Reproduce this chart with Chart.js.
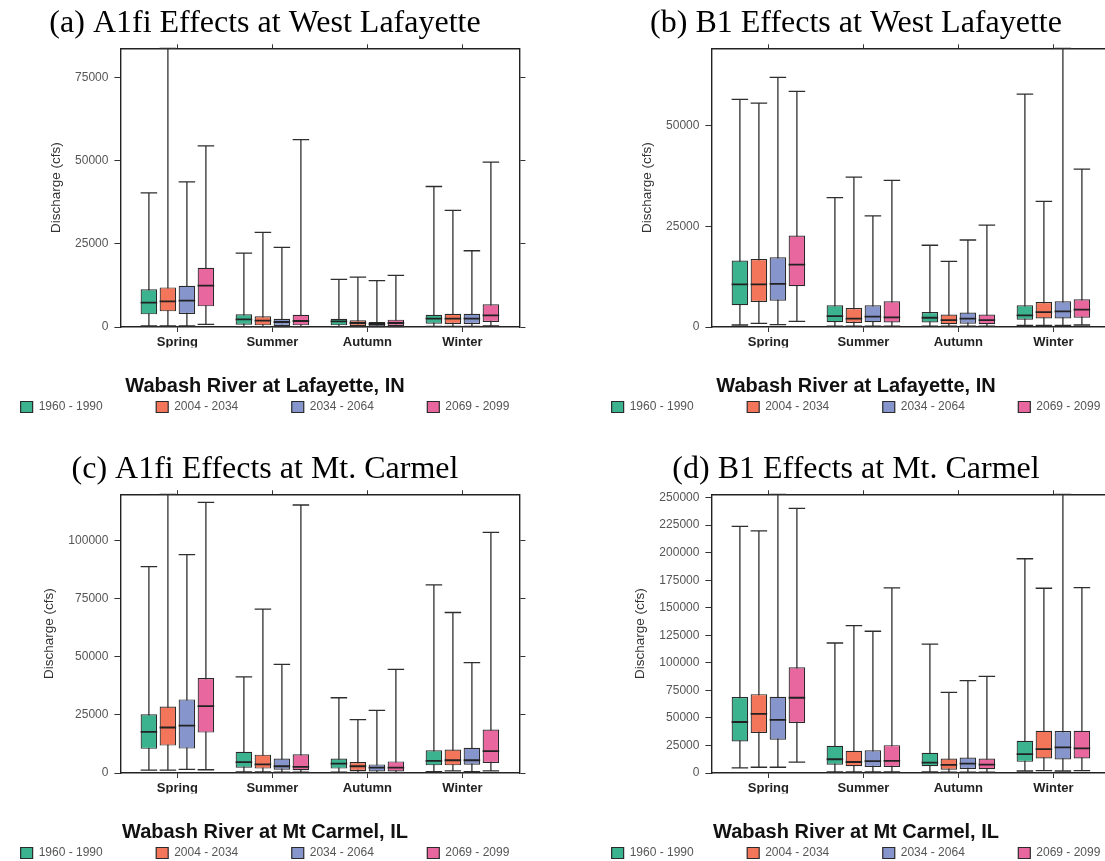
<!DOCTYPE html>
<html>
<head>
<meta charset="utf-8">
<script src="https://cdn.jsdelivr.net/npm/chart.js@4.4.1/dist/chart.umd.min.js"></script>
<style>
html, body { margin:0; padding:0; background:#ffffff; width:1105px; height:861px; overflow:hidden; position:relative; }
.panel { position:absolute; }
</style>
</head>
<body>
<div class="panel" style="left:-40px;top:0px"><canvas id="pa" width="610" height="423"></canvas></div>
<div class="panel" style="left:551px;top:0px"><canvas id="pb" width="610" height="423"></canvas></div>
<div class="panel" style="left:-40px;top:446px"><canvas id="pc" width="610" height="423"></canvas></div>
<div class="panel" style="left:551px;top:446px"><canvas id="pd" width="610" height="423"></canvas></div>
<script>
// ---------- categories ----------
const seasons = ['Spring', 'Summer', 'Autumn', 'Winter'];
const periods = ['1960 - 1990', '2004 - 2034', '2034 - 2064', '2069 - 2099'];

// ---------- (a) A1fi, West Lafayette : rows = periods, cols = seasons ----------
const aMax = [[40300, 22200, 14300, 42200], [83700, 28400, 15000, 35000], [43600, 23900, 13900, 22900], [54400, 56300, 15500, 49500]];
const aQ3  = [[11300, 3800, 2500, 3700], [11900, 3200, 2000, 4000], [12400, 2500, 1500, 4000], [17800, 3700, 2200, 6800]];
const aMed = [[7300, 2300, 1700, 2500], [7700, 1900, 1200, 2500], [7900, 1500, 900, 2500], [12400, 1800, 1200, 3500]];
const aQ1  = [[3800, 700, 500, 1000], [4700, 500, 300, 900], [3900, 300, 200, 900], [6200, 500, 300, 1500]];
const aMin = [[300, 100, 100, 200], [300, 100, 100, 200], [300, 100, 100, 200], [800, 100, 100, 300]];
const aTicks = [0, 25000, 50000, 75000];
const aTop = 83700;

// ---------- (b) B1, West Lafayette ----------
const bMax = [[56500, 32100, 20300, 57800], [55600, 37200, 16300, 31200], [62000, 27600, 21600, 69200], [58500, 36400, 25300, 39200]];
const bQ3  = [[16500, 5400, 3700, 5400], [16900, 4700, 3100, 6200], [17300, 5400, 3600, 6400], [22700, 6400, 3100, 6900]];
const bMed = [[10600, 2700, 2300, 2900], [10600, 2100, 1700, 3700], [10700, 2600, 2100, 3900], [15500, 2400, 1700, 4300]];
const bQ1  = [[5400, 1200, 1100, 1800], [6200, 1000, 700, 2100], [6500, 1200, 800, 2100], [10100, 1100, 700, 2300]];
const bMin = [[500, 200, 200, 400], [900, 200, 200, 400], [600, 200, 200, 400], [1400, 200, 200, 500]];
const bTicks = [0, 25000, 50000];
const bTop = 69200;

// ---------- (c) A1fi, Mt. Carmel ----------
const cMax = [[88900, 41400, 32400, 81000], [120000, 70600, 23000, 69100], [94000, 46800, 27000, 47500], [116500, 115400, 44600, 103600]];
const cQ3  = [[25300, 9100, 6200, 9800], [28600, 7900, 4700, 10100], [31700, 6200, 3700, 10900], [40900, 8100, 5000, 18700]];
const cMed = [[17700, 4700, 4000, 5200], [19600, 3700, 2900, 5500], [20400, 2900, 2300, 5500], [28800, 2600, 2300, 9400]];
const cQ1  = [[10400, 2300, 1900, 3300], [11800, 1900, 900, 3300], [10500, 1400, 700, 3600], [17400, 1200, 700, 4300]];
const cMin = [[1200, 500, 400, 600], [1200, 500, 300, 900], [1600, 400, 300, 600], [1400, 400, 300, 900]];
const cTicks = [0, 25000, 50000, 75000, 100000];
const cTop = 120000;

// ---------- (d) B1, Mt. Carmel ----------
const dMax = [[223800, 118000, 117000, 194500], [219800, 133800, 73200, 167700], [253000, 128700, 83800, 253000], [240200, 168000, 87800, 168300]];
const dQ3  = [[68900, 24700, 18300, 29300], [71600, 20100, 13100, 38400], [69200, 20700, 14000, 38100], [96000, 25300, 13100, 38400]];
const dMed = [[46300, 12500, 9500, 17100], [53700, 10000, 7300, 21600], [48200, 10700, 8500, 23200], [68300, 11000, 7600, 22300]];
const dQ1  = [[28700, 7600, 6100, 10100], [36300, 6100, 3000, 13100], [30200, 5500, 3700, 12200], [45400, 5500, 3400, 13100]];
const dMin = [[4600, 1000, 900, 1800], [5200, 900, 700, 2100], [5200, 900, 700, 1800], [9800, 1000, 700, 2100]];
const dTicks = [0, 25000, 50000, 75000, 100000, 125000, 150000, 175000, 200000, 225000, 250000];
const dTop = 253000;

// ---------- styles ----------
const periodColors = ['#3bb38e', '#f4765a', '#8696cc', '#e8679e'];
const SLOT = 0.2;          // spacing between boxes inside a season group (axis units)
const BOX_FRAC = 0.87;     // box width as fraction of slot
const SHIFT = 40;          // canvas starts this far left of the panel origin
const CANVAS_W = 610;
const SERIF = "'Liberation Serif', 'Times New Roman', serif";
const SANS = "'Liberation Sans', Arial, sans-serif";
Chart.defaults.font.family = SANS;

const panels = [
  { id: 'pa', title: '(a) A1fi Effects at West Lafayette', river: 'Wabash River at Lafayette, IN',
    max: aMax, q3: aQ3, med: aMed, q1: aQ1, min: aMin, ticks: aTicks, top: aTop, yTitleX: 56 },
  { id: 'pb', title: '(b) B1 Effects at West Lafayette', river: 'Wabash River at Lafayette, IN',
    max: bMax, q3: bQ3, med: bMed, q1: bQ1, min: bMin, ticks: bTicks, top: bTop, yTitleX: 56 },
  { id: 'pc', title: '(c) A1fi Effects at Mt. Carmel', river: 'Wabash River at Mt Carmel, IL',
    max: cMax, q3: cQ3, med: cMed, q1: cQ1, min: cMin, ticks: cTicks, top: cTop, yTitleX: 49 },
  { id: 'pd', title: '(d) B1 Effects at Mt. Carmel', river: 'Wabash River at Mt Carmel, IL',
    max: dMax, q3: dQ3, med: dMed, q1: dQ1, min: dMin, ticks: dTicks, top: dTop, yTitleX: 49 }
];

// whiskers (behind boxes) and medians (on top), drawn through the chart scales
function drawBoxParts(chart, part) {
  const { ctx, chartArea: ca, scales } = chart;
  const xs = scales.x, ys = scales.y;
  ctx.save();
  ctx.beginPath();
  ctx.rect(ca.left, ca.top - 2, ca.right - ca.left, ca.bottom - ca.top + 4);
  ctx.clip();
  ctx.lineCap = 'butt';
  chart.data.datasets.forEach(ds => {
    ds.data.forEach((pt, i) => {
      const cx = xs.getPixelForValue(pt.x);
      const half = Math.abs(xs.getPixelForValue(pt.x + SLOT * BOX_FRAC / 2) - cx);
      if (part === 'whisker') {
        const yLo = ys.getPixelForValue(ds.whiskerLow[i]);
        const yHi = ys.getPixelForValue(ds.whiskerHigh[i]);
        ctx.strokeStyle = '#2e2e2e';
        ctx.lineWidth = 1.3;
        ctx.beginPath();
        ctx.moveTo(cx, yLo); ctx.lineTo(cx, yHi);
        ctx.moveTo(cx - half, yLo); ctx.lineTo(cx + half, yLo);
        ctx.moveTo(cx - half, yHi); ctx.lineTo(cx + half, yHi);
        ctx.stroke();
      } else {
        const yM = ys.getPixelForValue(ds.medians[i]);
        ctx.strokeStyle = '#222222';
        ctx.lineWidth = 1.8;
        ctx.beginPath();
        ctx.moveTo(cx - half, yM); ctx.lineTo(cx + half, yM);
        ctx.stroke();
      }
    });
  });
  ctx.restore();
}
const boxPlotPlugin = {
  id: 'boxPlotParts',
  beforeDatasetsDraw(chart) { drawBoxParts(chart, 'whisker'); },
  afterDatasetsDraw(chart) { drawBoxParts(chart, 'median'); }
};

const seasonPos = seasons.map((s, i) => i + 1);
const axisGrid = { display: true, drawOnChartArea: false, drawTicks: true, tickLength: 5, color: '#333333', lineWidth: 1, offset: false };
const axisBorder = { display: true, color: '#222222', width: 1.4 };
const PLOT_LEFT = 120.4, PLOT_RIGHT = 519.4;   // plot frame, panel coordinates

panels.forEach(P => {
  const datasets = periods.map((label, k) => ({
    label: label,
    data: seasons.map((s, i) => ({ x: seasonPos[i] + (k - 1.5) * SLOT, y: [P.q1[k][i], P.q3[k][i]] })),
    whiskerLow: P.min[k],
    whiskerHigh: P.max[k],
    medians: P.med[k],
    backgroundColor: periodColors[k],
    borderColor: '#2a2a2a',
    borderWidth: 1.2,
    borderSkipped: false,
    grouped: false,
    barPercentage: BOX_FRAC,
    categoryPercentage: 1
  }));

  new Chart(document.getElementById(P.id), {
    type: 'bar',
    data: { datasets: datasets },
    plugins: [boxPlotPlugin],
    options: {
      responsive: false,
      animation: false,
      events: [],
      layout: { padding: 0 },
      scales: {
        x: {
          type: 'linear', position: 'bottom', min: 0.4, max: 4.6, offset: false,
          afterBuildTicks: s => { s.ticks = seasonPos.map(v => ({ value: v })); },
          afterFit: s => { s.height = 20.5; },
          grid: axisGrid, border: axisBorder,
          ticks: { autoSkip: false, maxRotation: 0, padding: 3, color: '#222222',
                   font: { size: 13, weight: 'bold' },
                   callback: (v, i) => seasons[i] }
        },
        x2: {
          type: 'linear', position: 'top', min: 0.4, max: 4.6, offset: false,
          afterBuildTicks: s => { s.ticks = seasonPos.map(v => ({ value: v })); },
          afterFit: s => { s.height = 6; },
          grid: Object.assign({}, axisGrid, { tickLength: 4 }), border: axisBorder,
          ticks: { display: false }
        },
        y: {
          type: 'linear', position: 'left', min: 0, max: P.top,
          afterBuildTicks: s => { s.ticks = P.ticks.map(v => ({ value: v })); },
          afterFit: s => { s.width = PLOT_LEFT + SHIFT; },
          grid: Object.assign({}, axisGrid, { tickLength: 6 }), border: axisBorder,
          ticks: { autoSkip: false, padding: 6, color: '#555555', font: { size: 12 },
                   callback: v => String(v) },
          title: { display: true, text: 'Discharge (cfs)', color: '#333333',
                   font: { size: 13.5 }, padding: { top: P.yTitleX + SHIFT - 8.1, bottom: 0 } }
        },
        y2: {
          type: 'linear', position: 'right', min: 0, max: P.top,
          afterBuildTicks: s => { s.ticks = P.ticks.map(v => ({ value: v })); },
          afterFit: s => { s.width = CANVAS_W - PLOT_RIGHT - SHIFT; },
          grid: Object.assign({}, axisGrid, { tickLength: 6 }), border: axisBorder,
          ticks: { display: false }
        }
      },
      plugins: {
        tooltip: { enabled: false },
        title: {
          display: true, text: P.title, color: '#000000',
          font: { family: SERIF, size: 32, weight: 'normal', lineHeight: 1 },
          padding: { top: 8, bottom: 2.3 }
        },
        subtitle: {
          display: true, text: P.river, position: 'bottom', weight: 500, color: '#111111',
          font: { family: SANS, size: 20, weight: 'bold', lineHeight: 1 },
          padding: { top: 29.2, bottom: -49.2 }
        },
        legend: {
          display: true, position: 'bottom', weight: 1000,
          labels: { boxWidth: 12, boxHeight: 11, padding: 53.5, color: '#555555',
                    font: { family: SANS, size: 12 } }
        }
      }
    }
  });
});
</script>
</body>
</html>
